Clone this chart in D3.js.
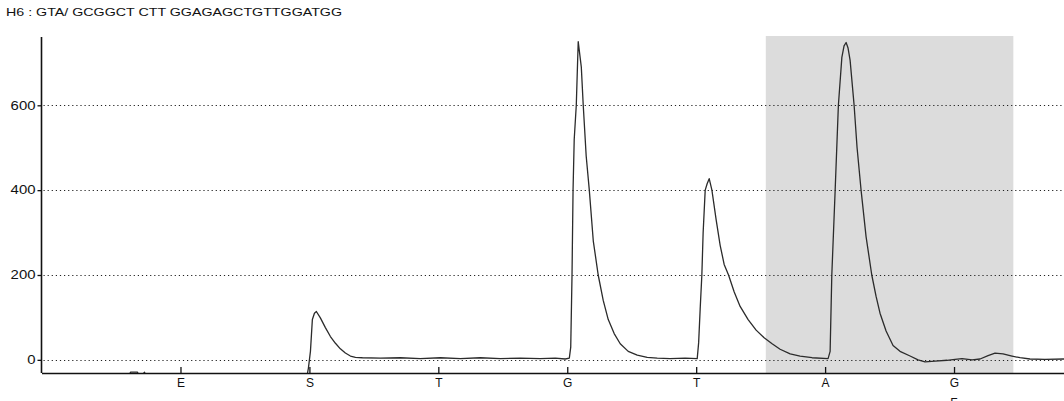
<!DOCTYPE html>
<html>
<head>
<meta charset="utf-8">
<script src="https://cdn.jsdelivr.net/npm/d3@7"></script>
<style>
  body { margin: 0; background: #fff; }
  svg { display: block; font-family: "Liberation Sans", Arial, sans-serif; }
</style>
</head>
<body>
<div id="chart"></div>
<script>
// Pyrogram data: well H6, dispensation order and signal trace
const title = "H6 : GTA/ GCGGCT CTT GGAGAGCTGTTGGATGG";
const dispensation = ["E", "S", "T", "G", "T", "A", "G"];
const yTicks = [0, 200, 400, 600];
const shaded = [5.54, 7.46]; // highlighted variable position (in dispensation units)

// trace: [dispensation position, signal]
const tracePos = [
  -0.078, 0.597, 0.612, 0.667, 0.682, 0.721, 0.736, 1.977, 1.992, 2.008, 2.016, 2.023, 2.039, 2.054,
  2.085, 2.124, 2.163, 2.202, 2.240, 2.279, 2.318, 2.357, 2.411, 2.550, 2.705, 2.860, 3.016, 3.171,
  3.326, 3.481, 3.636, 3.791, 3.907, 3.984, 4.016,
  4.027, 4.037, 4.045, 4.054, 4.070, 4.078, 4.085, 4.097, 4.109, 4.124, 4.147, 4.171, 4.202, 4.240,
  4.279, 4.318, 4.364, 4.411, 4.473, 4.543, 4.620, 4.698, 4.798, 4.915, 5.008,
  5.019, 5.031, 5.044, 5.054, 5.070, 5.085, 5.101, 5.122, 5.155, 5.186, 5.217, 5.251, 5.295, 5.341,
  5.403, 5.465, 5.527, 5.589, 5.651, 5.729, 5.806, 5.899, 6.023,
  6.039, 6.052, 6.078, 6.103, 6.130, 6.147, 6.163, 6.178, 6.194, 6.225, 6.248, 6.279, 6.318, 6.362,
  6.395, 6.426, 6.473, 6.527, 6.581, 6.659, 6.721, 6.775, 6.853, 6.946, 7.008, 7.062, 7.140, 7.202,
  7.264, 7.318, 7.380, 7.450, 7.512, 7.589, 7.705, 7.853
];
const traceVal = [
  -45, -45, -29, -29, -45, -29, -45, -45, -20, 20, 60, 95, 110, 114,
  99, 76, 55, 39, 26, 16, 9, 6, 5, 4, 5, 3, 5, 3,
  5, 3, 4, 3, 4, 2, 4,
  30, 200, 400, 520, 600, 680, 750, 720, 690, 600, 480, 400, 280, 200,
  140, 95, 62, 38, 20, 11, 6, 4, 3, 4, 3,
  40, 120, 200, 300, 400, 415, 427, 400, 330, 270, 225, 200, 160, 126,
  95, 70, 52, 38, 25, 14, 9, 5, 3,
  20, 200, 400, 600, 713, 740, 748, 735, 706, 600, 500, 400, 290, 200,
  150, 110, 68, 34, 20, 9, 0, -5, -3, -1, 1, 3, 0, 2,
  10, 16, 14, 9, 5, 2, 1, 2
];
const trace = tracePos.map((p, i) => ({pos: p, val: traceVal[i]}));

const width = 1064, height = 401;
const plot = {left: 41.5, right: 1064, top: 37, bottom: 373};

const svg = d3.select("#chart").append("svg")
    .attr("width", width)
    .attr("height", height);

const x = d3.scaleLinear()
    .domain([-0.078, 7.853])
    .range([plot.left, plot.right]);

const y = d3.scaleLinear()
    .domain([-31, 761])
    .range([plot.bottom, plot.top]);

// Shaded region
svg.append("rect")
    .attr("x", x(shaded[0]))
    .attr("y", 36)
    .attr("width", x(shaded[1]) - x(shaded[0]))
    .attr("height", plot.bottom - 36)
    .attr("fill", "#dcdcdc");

// Dotted grid lines
svg.selectAll(".grid")
  .data(yTicks)
  .enter()
  .append("line")
    .attr("x1", plot.left + 2)
    .attr("x2", plot.right)
    .attr("y1", d => Math.round(y(d)) + 0.5)
    .attr("y2", d => Math.round(y(d)) + 0.5)
    .attr("stroke", "#222")
    .attr("stroke-width", 1.2)
    .attr("stroke-dasharray", "1.2,2.9");

// Clip the trace to the plot area
svg.append("clipPath")
    .attr("id", "plot-clip")
  .append("rect")
    .attr("x", plot.left)
    .attr("y", plot.top)
    .attr("width", plot.right - plot.left)
    .attr("height", plot.bottom - plot.top);

const line = d3.line()
    .x(d => x(d.pos))
    .y(d => y(d.val));

svg.append("path")
    .datum(trace)
    .attr("clip-path", "url(#plot-clip)")
    .attr("fill", "none")
    .attr("stroke", "#2b2b2b")
    .attr("stroke-width", 1.3)
    .attr("stroke-linejoin", "round")
    .attr("d", line);

// Y axis
const yAxis = svg.append("g")
    .attr("transform", `translate(${plot.left},0)`)
    .call(d3.axisLeft(y).tickValues(yTicks).tickSize(4).tickPadding(2).tickSizeOuter(0));
yAxis.select(".domain").remove();
yAxis.selectAll("line").attr("stroke", "#111").attr("stroke-width", 1.3);
yAxis.selectAll("text")
    .attr("fill", "#111")
    .style("font-size", "12px")
    .attr("textLength", d => String(d).length * 8.3)
    .attr("lengthAdjust", "spacingAndGlyphs");
svg.append("line")
    .attr("x1", plot.left).attr("x2", plot.left)
    .attr("y1", plot.top).attr("y2", plot.bottom)
    .attr("stroke", "#111")
    .attr("stroke-width", 1.6);

// X axis with dispensation labels
const xAxis = svg.append("g")
    .attr("transform", `translate(0,${plot.bottom})`)
    .call(d3.axisBottom(x)
      .tickValues(d3.range(1, dispensation.length + 1))
      .tickFormat(d => dispensation[d - 1])
      .tickSize(-6)
      .tickPadding(5)
      .tickSizeOuter(0));
xAxis.select(".domain").attr("stroke", "#111").attr("stroke-width", 1.6);
xAxis.selectAll("line").attr("stroke", "#111").attr("stroke-width", 1.3);
xAxis.selectAll("text")
    .attr("fill", "#111")
    .style("font-size", "12px");

// partially visible second label row under the last G
svg.append("text")
    .attr("x", x(dispensation.length))
    .attr("y", 407)
    .attr("text-anchor", "middle")
    .attr("fill", "#111")
    .style("font-size", "12px")
    .text("F");

// Title
svg.append("text")
    .attr("x", 6)
    .attr("y", 16)
    .attr("fill", "#111")
    .style("font-size", "11px")
    .attr("textLength", 336)
    .attr("lengthAdjust", "spacingAndGlyphs")
    .text(title);
</script>
</body>
</html>
